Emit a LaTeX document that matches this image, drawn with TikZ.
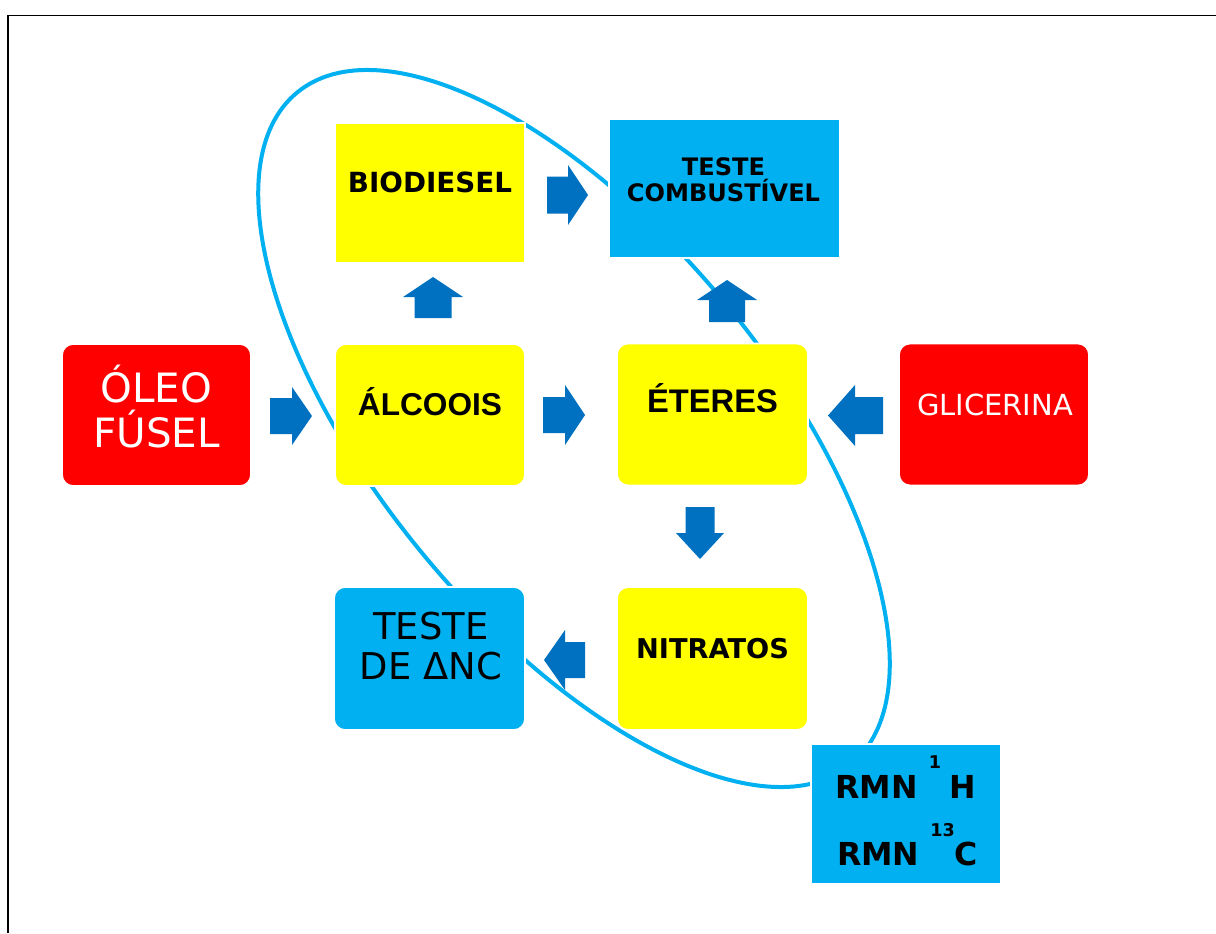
\documentclass[tikz,border=0pt]{standalone}
\usepackage{fontspec}
\setmainfont{DejaVu Sans}
\newfontfamily\arialfont{Liberation Sans}
\usepackage{tikz}

\definecolor{boxred}{HTML}{FF0000}
\definecolor{boxyellow}{HTML}{FFFF00}
\definecolor{boxblue}{HTML}{00B0F0}
\definecolor{arrowblue}{HTML}{0070C0}

\tikzset{
	box/.style={draw=white, line width=1pt, inner sep=0pt, minimum width=3.8cm, minimum height=2.84cm},
	roundbox/.style={box, rounded corners=0.22cm},
}

% block arrow: centre x, centre y, rotation, length, head length, head width, shaft width
\newcommand{\blockarrow}[7]{%
	\fill[arrowblue, shift={(#1,#2)}, rotate=#3]
	(-#4/2,-#7/2) -- (#4/2-#5,-#7/2) -- (#4/2-#5,-#6/2) -- (#4/2,0)
	-- (#4/2-#5,#6/2) -- (#4/2-#5,#7/2) -- (-#4/2,#7/2) -- cycle;}

\begin{document}
\begin{tikzpicture}[x=0.02cm,y=-0.02cm]
				\useasboundingbox (0,0) rectangle (1216,933);
				
				% Frame
				\draw[line width=1.1pt] (8,933) -- (8,15.5) -- (1216,15.5);
				
				% Loop behind the boxes
				\draw[boxblue, line width=0.08cm, shift={(574,428.5)}, rotate=-50.5] (0,0) ellipse [x radius=8.71cm, y radius=3.93cm];
				
				% Boxes
				\node[roundbox, fill=boxred, minimum width=3.78cm] (oleo) at (156.5,415) {};
				\node[roundbox, fill=boxyellow] (alcoois) at (430,415) {};
				\node[roundbox, fill=boxyellow, minimum width=3.82cm] (eteres) at (712.5,414.5) {};
				\node[roundbox, fill=boxred] (glicerina) at (994,414.5) {};
				\node[box, fill=boxyellow, minimum height=2.8cm] (biodiesel) at (430,193) {};
				\node[box, fill=boxblue, minimum width=4.62cm, minimum height=2.78cm] (teste) at (724.5,188.5) {};
				\node[roundbox, fill=boxyellow, minimum width=3.82cm, minimum height=2.86cm] (nitratos) at (712.5,658.5) {};
				\node[roundbox, fill=boxblue, minimum width=3.82cm, minimum height=2.86cm] (testenc) at (429.5,658.5) {};
				\node[box, fill=boxblue, minimum height=2.8cm] (rmn) at (906,814) {};
				
				% Texts
				\node[align=center, text=white, font=\fontsize{23}{25.6}\selectfont] (oleo-t) at (156.5,406.7) {ÓLEO\\FÚSEL};
				\node[anchor=base, font=\arialfont\bfseries\fontsize{18}{20}\selectfont] (alcoois-t) at (430,415) {ÁLCOOIS};
				\node[anchor=base, font=\arialfont\bfseries\fontsize{18.6}{20}\selectfont] (eteres-t) at (712.5,412) {ÉTERES};
				\node[anchor=base, text=white, font=\fontsize{16.5}{18}\selectfont] (glicerina-t) at (995,415) {GLICERINA};
				\node[anchor=base, font=\bfseries\fontsize{15.8}{18}\selectfont] (biodiesel-t) at (430,192) {BIODIESEL};
				\node[align=center, font=\bfseries\fontsize{13.7}{14.8}\selectfont] (teste-t) at (723.5,180) {TESTE\\COMBUSTÍVEL};
				\node[anchor=base, font=\bfseries\fontsize{15.5}{18}\selectfont] (nitratos-t) at (712.5,658) {NITRATOS};
				\node[align=center, font=\fontsize{21}{22.8}\selectfont] (testenc-t) at (431,646.5) {TESTE\\DE ΔNC};
				\node[anchor=base, font=\bfseries\fontsize{18}{20}\selectfont] (rmn-h) at (906,798) {RMN \raisebox{17pt}{\fontsize{10}{10}\selectfont 1}\hspace{5pt}H};
				\node[anchor=base, font=\bfseries\fontsize{18}{20}\selectfont] (rmn-c) at (907.5,865) {RMN \raisebox{16.5pt}{\fontsize{10}{10}\selectfont 13}C};
				
				% Block arrows
				\blockarrow{291}{416}{0}{42}{20}{58}{36}      % oleo to alcoois
				\blockarrow{564}{415}{0}{42}{20}{60}{36}      % alcoois to eteres
				\blockarrow{567.5}{195}{0}{41}{20}{60}{37}    % biodiesel to teste
				\blockarrow{855.5}{415.5}{180}{55}{27}{61}{37}% glicerina to eteres
				\blockarrow{433}{297.5}{90}{41}{20}{60}{37}   % alcoois to biodiesel
				\blockarrow{727}{301}{90}{42}{20}{60}{36}     % eteres to teste
				\blockarrow{700}{533}{-90}{52}{26}{48}{29}    % eteres to nitratos
				\blockarrow{564.5}{660}{180}{41}{21}{60}{36}  % nitratos to testenc
			\end{tikzpicture}
\end{document}
